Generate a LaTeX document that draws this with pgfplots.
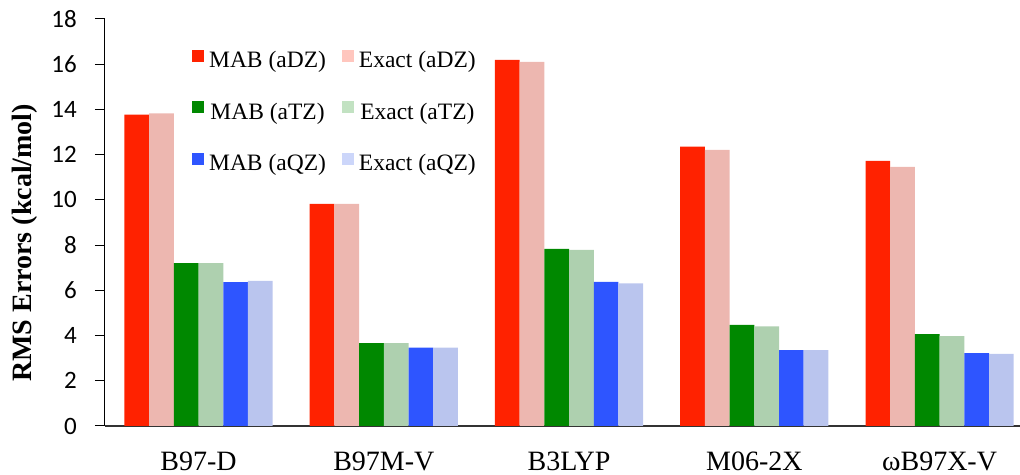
\documentclass[border=0pt]{standalone}
\usepackage{pgfplots}
\pgfplotsset{compat=1.18}
\usepackage{fontspec}
\setmainfont{Liberation Serif}
\newfontfamily\calibri{Carlito}

\definecolor{mabDZ}{HTML}{FF2200}
\definecolor{exDZ}{HTML}{EDB7B0}
\definecolor{exDZleg}{HTML}{FFC6BE}
\definecolor{mabTZ}{HTML}{008800}
\definecolor{exTZ}{HTML}{AED0AF}
\definecolor{exTZleg}{HTML}{C2E2C2}
\definecolor{mabQZ}{HTML}{2E55FF}
\definecolor{exQZ}{HTML}{BAC5EE}
\definecolor{exQZleg}{HTML}{CCD6FA}

% RMS errors per functional (0 B97-D, 1 B97M-V, 2 B3LYP, 3 M06-2X, 4 wB97X-V)
\pgfplotstableread{
x  mabDZ exDZ  mabTZ exTZ mabQZ exQZ
0  13.77 13.83 7.20  7.20 6.36  6.42
1  9.82  9.82  3.67  3.67 3.47  3.47
2  16.19 16.10 7.83  7.79 6.37  6.31
3  12.36 12.21 4.47  4.41 3.36  3.36
4  11.73 11.46 4.06  3.98 3.22  3.19
}\rms

\pgfplotsset{
  swatch/.style={legend image code/.code={\fill[#1] (0pt,-1.5pt) rectangle (12pt,10.5pt);}},
}

\begin{document}
\begin{tikzpicture}
\begin{axis}[
  scale only axis,
  width=915pt, height=407pt,
  xmin=-0.505, xmax=4.434,
  ymin=0, ymax=18,
  ytick={0,2,...,18},
  xtick={0,1,2,3,4},
  xticklabels={B97-D,B97M-V,B3LYP,M06-2X,ωB97X-V},
  axis x line=bottom, axis y line=left,
  axis line style={-},
  x axis line style={draw=black!80, line width=2pt},
  y axis line style={draw=black, line width=1pt},
  x tick style={draw=none},
  y tick style={draw=black, line width=1pt},
  tick align=outside,
  major tick length=10pt,
  /pgf/number format/assume math mode=true,
  % gap between the numbers and the tick marks kept by a blank rule
  yticklabel={\calibri\fontsize{25}{28}\selectfont
    \raisebox{-4pt}{\pgfmathprintnumber{\tick}}\rule{18pt}{0pt}},
  yticklabel style={inner sep=0pt, anchor=east},
  xticklabel style={font=\fontsize{28}{32}\selectfont,
    inner sep=0pt, anchor=north, yshift=-16pt},
  ylabel={RMS Errors (kcal/mol)},
  every axis y label/.style={at={([xshift=-80pt]axis description cs:0,0.45)},
    rotate=90, anchor=center, font=\bfseries\fontsize{28}{32}\selectfont},
  ybar=0pt, bar width=24.7pt,
  legend columns=2,
  legend style={at={(0.095,0.925)}, anchor=north west, draw=none, fill=none,
    inner sep=0pt, row sep=32pt,
    nodes={inner sep=0pt},
    font=\fontsize{23.5}{26}\selectfont,
    /tikz/every odd column/.append style={column sep=5pt},
    /tikz/every even column/.append style={column sep=16pt}},
]
\addplot[fill=mabDZ, draw=none, swatch=mabDZ] table[x=x, y=mabDZ] {\rms};
\addlegendentry{MAB (aDZ)}
\addplot[fill=exDZ, draw=none, swatch=exDZleg] table[x=x, y=exDZ] {\rms};
\addlegendentry{Exact (aDZ)}
\addplot[fill=mabTZ, draw=none, swatch=mabTZ] table[x=x, y=mabTZ] {\rms};
\addlegendentry{MAB (aTZ)}
\addplot[fill=exTZ, draw=none, swatch=exTZleg] table[x=x, y=exTZ] {\rms};
\addlegendentry{Exact (aTZ)}
\addplot[fill=mabQZ, draw=none, swatch=mabQZ] table[x=x, y=mabQZ] {\rms};
\addlegendentry{MAB (aQZ)}
\addplot[fill=exQZ, draw=none, swatch=exQZleg] table[x=x, y=exQZ] {\rms};
\addlegendentry{Exact (aQZ)}
\end{axis}
\pgfresetboundingbox
\path ([xshift=-105pt,yshift=-49pt]current axis.south west)
  rectangle ([yshift=19pt]current axis.north east);
\end{tikzpicture}
\end{document}
